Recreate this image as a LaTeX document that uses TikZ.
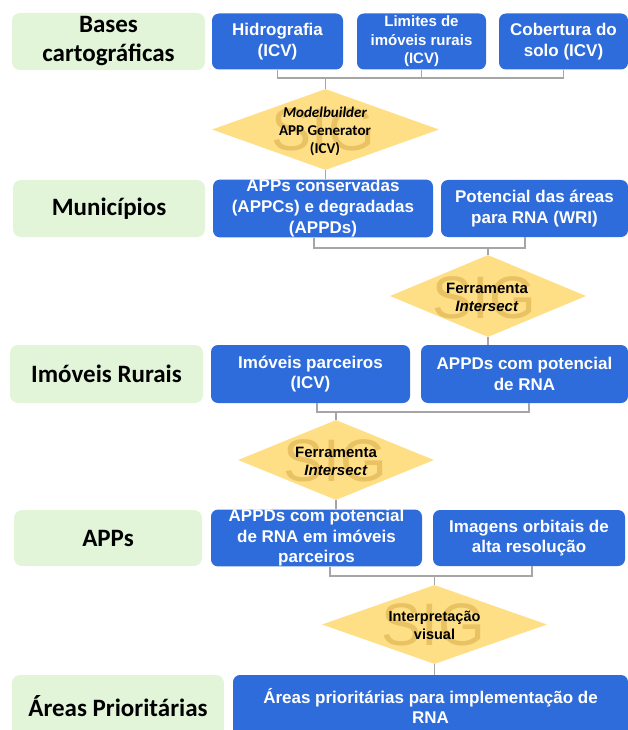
\documentclass[tikz,border=0pt]{standalone}
\usepackage{fontspec}
\setmainfont{Liberation Sans}
\newfontfamily\calib{Carlito}
\usetikzlibrary{shapes.geometric,calc}
\definecolor{gfill}{HTML}{E2F5D9}
\definecolor{bfill}{HTML}{2E6BDB}
\definecolor{dfill}{HTML}{FFDF86}
\definecolor{sigc}{HTML}{E9C363}
\definecolor{lgray}{HTML}{A6A6A6}
\begin{document}
\begin{tikzpicture}[x=1pt,y=-1pt,
  greenbox/.style={rectangle, rounded corners=8pt, fill=gfill, inner sep=0pt, align=center,
    font=\calib\bfseries\fontsize{25}{29}\selectfont},
  bluebox/.style={rectangle, rounded corners=7pt, fill=bfill, text=white, inner sep=0pt, align=center,
    font=\bfseries\fontsize{17}{20.5}\selectfont},
  dia/.style={diamond, fill=dfill, inner sep=0pt},
  sig/.style={text=sigc, font=\fontsize{60}{60}\selectfont, inner sep=0pt},
  diatext/.style={align=center, inner sep=0pt, font=\bfseries\fontsize{15}{18}\selectfont},
  conn/.style={draw=lgray, line width=1.6pt}]
\useasboundingbox (0,0) rectangle (628,730);

% Row 1
\node[greenbox, minimum width=193, minimum height=57] (bases) at (108.5,41.5) {Bases\\cartográficas};
\node[bluebox, minimum width=131, minimum height=56] (hid) at (277.5,41.5) {Hidrografia\\(ICV)};
\node[bluebox, minimum width=129, minimum height=56, font=\bfseries\fontsize{15}{18.5}\selectfont] (lim) at (421.5,41.5) {Limites de\\imóveis rurais\\(ICV)};
\node[bluebox, minimum width=129, minimum height=56] (cob) at (563.5,41.5) {Cobertura do\\solo (ICV)};

% Diamond 1
\node[dia, minimum width=227, minimum height=81] (d1) at (325.5,129.5) {};
\node[sig] (s1) at (323,130) {SIG};
\node[diatext, font=\calib\bfseries\fontsize{15}{18}\selectfont] (t1) at (325,131) {\textit{Modelbuilder}\\APP Generator\\(ICV)};

% Row 2
\node[greenbox, minimum width=192, minimum height=57] (mun) at (109,208.5) {Municípios};
\node[bluebox, minimum width=220, minimum height=57, font=\bfseries\fontsize{17}{21}\selectfont] (apc) at (323,208.5) {APPs conservadas\\(APPCs) e degradadas\\(APPDs)};
\node[bluebox, minimum width=187, minimum height=57] (pot) at (534.5,208.5) {Potencial das áreas\\para RNA (WRI)};

% Diamond 2
\node[dia, minimum width=196, minimum height=82] (d2) at (488,296) {};
\node[sig] (s2) at (484,298) {SIG};
\node[diatext] (t2) at (487,297) {Ferramenta\\\textit{Intersect}};

% Row 3
\node[greenbox, minimum width=193, minimum height=58] (imr) at (106.5,374) {Imóveis Rurais};
\node[bluebox, minimum width=199, minimum height=58] (imp) at (310.5,374) {Imóveis parceiros\\(ICV)};
\node[bluebox, minimum width=207, minimum height=58] (apd) at (524.5,374) {APPDs com potencial\\de RNA};

% Diamond 3
\node[dia, minimum width=196, minimum height=80] (d3) at (336,460) {};
\node[sig] (s3) at (335,461) {SIG};
\node[diatext] (t3) at (336,461) {Ferramenta\\\textit{Intersect}};

% Row 4
\node[greenbox, minimum width=188, minimum height=56] (apps) at (108,538) {APPs};
\node[bluebox, minimum width=211, minimum height=56] (apr) at (316.5,538) {APPDs com potencial\\de RNA em imóveis\\parceiros};
\node[bluebox, minimum width=192, minimum height=56] (img) at (529,538) {Imagens orbitais de\\alta resolução};

% Diamond 4
\node[dia, minimum width=225, minimum height=79] (d4) at (434.5,624.5) {};
\node[sig] (s4) at (433,625) {SIG};
\node[diatext, font=\bfseries\fontsize{14.5}{18}\selectfont] (t4) at (434.5,625) {Interpretação\\visual};

% Row 5
\node[greenbox, minimum width=212, minimum height=62] (are) at (118,706) {Áreas Prioritárias};
\node[bluebox, minimum width=395, minimum height=62] (apri) at (430.5,706) {Áreas prioritárias para implementação de\\RNA};

% Connectors
\coordinate (k1) at (325.5,78);
\draw[conn] (hid.south) |- (k1) -| (cob.south);
\draw[conn] (lim.south) -- (lim.south |- k1);
\draw[conn] (k1) -- (d1.north);
\draw[conn] (d1.south) -- (d1.south |- apc.north);

\coordinate (k2) at (488,248);
\draw[conn] ($(apc.south)+(-9,0)$) |- (k2) -| ($(pot.south)+(-9.5,0)$);
\draw[conn] (k2) -- (d2.north);
\draw[conn] (d2.south) -- (d2.south |- apd.north);

\coordinate (k3) at (336,412);
\draw[conn] ($(imp.south)+(6.5,0)$) |- (k3) -| ($(apd.south)+(4.5,0)$);
\draw[conn] (k3) -- (d3.north);
\draw[conn] (d3.south) -- (d3.south |- apr.north);

\coordinate (k4) at (434.5,576);
\draw[conn] ($(apr.south)+(13.5,0)$) |- (k4) -| ($(img.south)+(3,0)$);
\draw[conn] (k4) -- (d4.north);
\draw[conn] (d4.south) -- (d4.south |- apri.north);
\end{tikzpicture}
\end{document}
